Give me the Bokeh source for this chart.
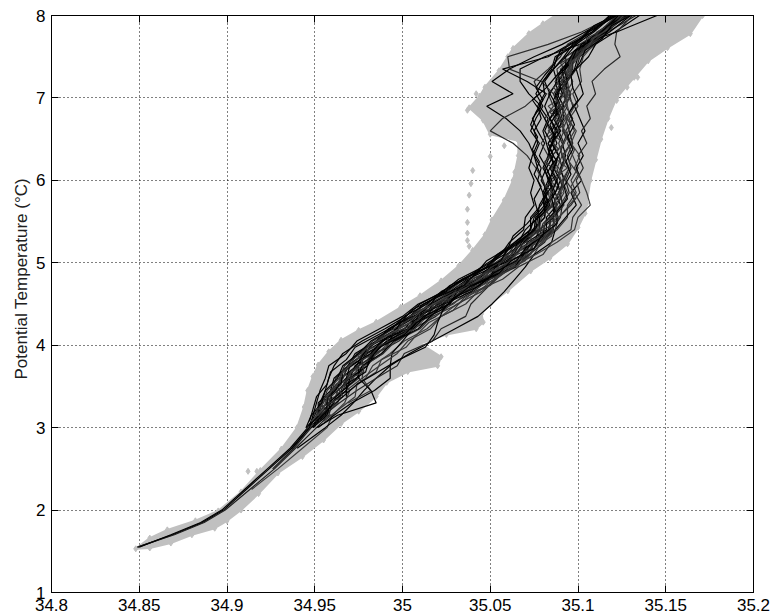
from bokeh.plotting import figure
from bokeh.models import Range1d, FixedTicker, LinearAxis, Title, CustomLabelingPolicy
from bokeh.embed import file_html
from bokeh.resources import INLINE

# ---------------- data ----------------
x_ticks = [34.8, 34.85, 34.9, 34.95, 35.0, 35.05, 35.1, 35.15, 35.2]
x_tick_labels = ["34.8", "34.85", "34.9", "34.95", "35", "35.05", "35.1", "35.15", "35.2"]
y_ticks = [1, 2, 3, 4, 5, 6, 7, 8]
y_tick_labels = ["1", "2", "3", "4", "5", "6", "7", "8"]

# envelope of the grey point cloud (all CTD data)
cloud_left_s = [34.848, 34.856, 34.866, 34.882, 34.895, 34.908, 34.919, 34.931, 34.940, 34.944,
                34.946, 34.949, 34.952, 34.958, 34.965, 34.975, 34.985, 34.999, 35.010, 35.022,
                35.032, 35.040, 35.047, 35.051, 35.058, 35.063, 35.064, 35.066, 35.066, 35.050,
                35.046, 35.038, 35.044, 35.047, 35.055, 35.060, 35.063, 35.072, 35.080, 35.087]
cloud_left_t = [1.53, 1.66, 1.76, 1.87, 1.99, 2.22, 2.48, 2.74, 3.00, 3.25,
                3.45, 3.62, 3.76, 3.92, 4.06, 4.18, 4.28, 4.46, 4.60, 4.78,
                4.96, 5.15, 5.34, 5.52, 5.76, 6.00, 6.10, 6.30, 6.48, 6.56,
                6.73, 6.88, 7.02, 7.13, 7.33, 7.50, 7.60, 7.78, 7.90, 8.00]
cloud_right_s = [35.171, 35.164, 35.151, 35.140, 35.132, 35.122, 35.117, 35.113, 35.110, 35.107,
                 35.105, 35.104, 35.100, 35.094, 35.084, 35.073, 35.060, 35.050, 35.045, 35.046,
                 35.042, 35.025, 35.010, 35.022, 35.020, 35.003, 34.991, 34.985, 34.975, 34.965,
                 34.955, 34.943, 34.929, 34.918, 34.908, 34.900, 34.893, 34.880, 34.868, 34.856]
cloud_right_t = [8.00, 7.78, 7.61, 7.45, 7.25, 7.00, 6.75, 6.50, 6.25, 6.00,
                 5.72, 5.60, 5.43, 5.23, 5.06, 4.90, 4.66, 4.50, 4.38, 4.28,
                 4.20, 4.13, 4.02, 3.86, 3.75, 3.68, 3.55, 3.38, 3.20, 3.05,
                 2.85, 2.65, 2.45, 2.20, 2.00, 1.87, 1.78, 1.70, 1.60, 1.54]

# isolated grey points
stray_s = [35.040, 35.039, 35.038, 35.037, 35.037, 35.037, 35.037, 35.038, 35.050, 35.058,
           34.912, 34.917, 34.921, 35.134, 35.119, 35.122, 35.137, 35.128, 35.113, 35.037, 35.042]
stray_t = [6.12, 5.96, 5.82, 5.65, 5.49, 5.36, 5.27, 5.20, 6.29, 6.42,
           2.47, 2.47, 2.47, 7.25, 6.64, 6.97, 7.42, 7.13, 6.73, 6.85, 7.05]

# potential temperature levels of the first set of profiles (every profile ends at 8 C)
temp_grid = [1.55, 1.70, 1.85, 2.00, 2.25, 2.50, 2.75, 3.00, 3.15, 3.30, 3.45, 3.60, 3.75, 3.90,
             4.05, 4.20, 4.35, 4.50, 4.65, 4.80, 4.95, 5.10, 5.25, 5.40, 5.55, 5.70, 5.85, 6.00,
             6.15, 6.30, 6.45, 6.60, 6.75, 6.90, 7.05, 7.20, 7.35, 7.50, 7.65, 7.80, 8.00]
# potential temperature levels of the second set of profiles
temp_grid_b = [3.075, 3.225, 3.375, 3.525, 3.675, 3.825, 3.975, 4.125, 4.275, 4.425, 4.575,
               4.725, 4.875, 5.025, 5.175, 5.325, 5.475, 5.625, 5.775, 5.925, 6.075, 6.225,
               6.375, 6.525, 6.675, 6.825, 6.975, 7.125, 7.275, 7.425, 7.575, 7.725, 7.875, 8.00]

# salinity of each profile at the upper part of its temperature grid
prof_a = [34.849, 34.869, 34.886, 34.898, 34.911, 34.924, 34.937, 34.947, 34.951, 34.957, 34.959,
          34.966, 34.969, 34.978, 34.985, 34.997, 35.004, 35.017, 35.027, 35.037, 35.052, 35.059,
          35.070, 35.074, 35.081, 35.082, 35.087, 35.084, 35.086, 35.089, 35.085, 35.087, 35.090,
          35.087, 35.089, 35.087, 35.091, 35.097, 35.102, 35.113, 35.123]
prof_b = [34.849, 34.870, 34.887, 34.899, 34.913, 34.927, 34.939, 34.951, 34.958, 34.960, 34.968,
          34.971, 34.980, 34.985, 34.998, 35.006, 35.019, 35.028, 35.040, 35.050, 35.065, 35.072,
          35.081, 35.085, 35.090, 35.091, 35.095, 35.093, 35.096, 35.094, 35.097, 35.095, 35.093,
          35.097, 35.095, 35.094, 35.099, 35.101, 35.110, 35.117, 35.133]
prof_c = [34.850, 34.868, 34.885, 34.897, 34.910, 34.923, 34.936, 34.946, 34.952, 34.954, 34.962,
          34.965, 34.974, 34.977, 34.989, 34.996, 35.008, 35.016, 35.029, 35.038, 35.048, 35.055,
          35.066, 35.070, 35.077, 35.078, 35.082, 35.080, 35.077, 35.075, 35.078, 35.073, 35.076,
          35.080, 35.076, 35.080, 35.085, 35.087, 35.098, 35.105, 35.121]
prof_d = [34.914, 34.929, 34.943, 34.957, 34.960, 34.967, 34.970, 34.979, 34.983, 34.993, 35.001,
          35.014, 35.022, 35.031, 35.045, 35.053, 35.063, 35.075, 35.079, 35.088, 35.094, 35.094,
          35.099, 35.096, 35.100, 35.097, 35.094, 35.098, 35.095, 35.100, 35.097, 35.102, 35.101,
          35.103, 35.109, 35.116, 35.128]
prof_e = [34.940, 34.956, 34.965, 34.972, 34.978, 34.985, 34.993, 35.004, 35.017, 35.030, 35.043,
          35.051, 35.058, 35.064, 35.070, 35.075, 35.085, 35.087, 35.093, 35.099, 35.096, 35.102,
          35.099, 35.103, 35.100, 35.104, 35.101, 35.098, 35.103, 35.101, 35.099, 35.106, 35.110,
          35.121, 35.135]
prof_f = [34.950, 34.951, 34.953, 34.960, 34.962, 34.970, 34.974, 34.986, 34.993, 35.005, 35.013,
          35.026, 35.035, 35.049, 35.060, 35.065, 35.075, 35.076, 35.083, 35.081, 35.085, 35.082,
          35.086, 35.083, 35.087, 35.084, 35.089, 35.086, 35.091, 35.090, 35.098, 35.103, 35.114,
          35.124]
prof_g = [34.947, 34.954, 34.961, 34.963, 34.970, 34.973, 34.982, 34.989, 35.001, 35.008, 35.021,
          35.029, 35.043, 35.052, 35.063, 35.068, 35.076, 35.077, 35.082, 35.080, 35.077, 35.079,
          35.075, 35.072, 35.067, 35.059, 35.048, 35.063, 35.051, 35.061, 35.075, 35.091, 35.104,
          35.120]
prof_h = [34.956, 34.963, 34.966, 34.969, 34.978, 34.983, 34.991, 35.004, 35.012, 35.026, 35.035,
          35.050, 35.060, 35.072, 35.078, 35.087, 35.089, 35.096, 35.101, 35.099, 35.103, 35.100,
          35.105, 35.102, 35.107, 35.105, 35.110, 35.108, 35.115, 35.124, 35.121, 35.122, 35.131]
prof_i = [34.945, 34.952, 34.952, 34.959, 34.961, 34.969, 34.973, 34.985, 34.992, 35.004, 35.012,
          35.025, 35.034, 35.048, 35.054, 35.064, 35.073, 35.073, 35.079, 35.083, 35.079, 35.082,
          35.078, 35.081, 35.077, 35.074, 35.079, 35.072, 35.067, 35.067, 35.081, 35.101, 35.122,
          35.145]
prof_j = [34.969, 34.982, 34.977, 34.978, 34.989, 34.993, 35.007, 35.012, 35.027, 35.033, 35.048,
          35.058, 35.070, 35.076, 35.085, 35.087, 35.088, 35.092, 35.090, 35.088, 35.091, 35.089,
          35.092, 35.090, 35.094, 35.092, 35.091, 35.095, 35.096, 35.106, 35.112, 35.127]
prof_k = [34.946, 34.950, 34.953, 34.956, 34.958, 34.961, 34.966, 34.977, 34.990, 35.002, 35.010,
          35.023, 35.032, 35.046, 35.058, 35.064, 35.073, 35.075, 35.081, 35.080, 35.083, 35.081,
          35.084, 35.082, 35.080, 35.083, 35.078, 35.082, 35.071, 35.057, 35.083, 35.095, 35.108,
          35.119]
prof_l = [34.926, 34.938, 34.948, 34.955, 34.958, 34.965, 34.968, 34.975, 34.980, 34.993, 35.001,
          35.014, 35.023, 35.036, 35.046, 35.056, 35.068, 35.074, 35.083, 35.085, 35.091, 35.090,
          35.088, 35.091, 35.089, 35.092, 35.089, 35.091, 35.089, 35.091, 35.094, 35.093, 35.099,
          35.105, 35.115, 35.125]
prof_m = [34.966, 34.975, 34.978, 34.989, 34.996, 35.010, 35.017, 35.032, 35.041, 35.057, 35.066,
          35.080, 35.085, 35.096, 35.097, 35.102, 35.098, 35.093, 35.089, 35.083, 35.079, 35.084,
          35.081, 35.086, 35.083, 35.089, 35.088, 35.096, 35.101, 35.112, 35.122]
prof_n = [34.952, 34.961, 34.971, 34.984, 34.993, 34.993, 34.994, 35.000, 35.006, 35.013, 35.020,
          35.028, 35.042, 35.050, 35.062, 35.066, 35.075, 35.081, 35.081, 35.086, 35.083, 35.087,
          35.084, 35.088, 35.085, 35.089, 35.087, 35.091, 35.089, 35.093, 35.093, 35.104, 35.111,
          35.126]
prof_o = [34.949, 34.955, 34.957, 34.964, 34.967, 34.976, 34.983, 34.995, 35.007, 35.015, 35.028,
          35.042, 35.051, 35.062, 35.067, 35.077, 35.078, 35.085, 35.083, 35.080, 35.076, 35.071,
          35.063, 35.050, 35.057, 35.070, 35.078, 35.075, 35.083, 35.090, 35.094, 35.106, 35.122]
prof_p = [34.951, 34.963, 34.985, 34.982, 34.975, 34.975, 34.979, 34.992, 34.998, 35.011, 35.018,
          35.032, 35.047, 35.057, 35.063, 35.075, 35.078, 35.086, 35.086, 35.089, 35.092, 35.090,
          35.093, 35.091, 35.088, 35.092, 35.091, 35.094, 35.093, 35.098, 35.100, 35.107, 35.118,
          35.130]
prof_q = [34.946, 34.959, 34.953, 34.970, 34.964, 34.978, 34.974, 34.994, 34.995, 35.017, 35.017,
          35.035, 35.038, 35.058, 35.062, 35.078, 35.077, 35.089, 35.085, 35.091, 35.084, 35.094,
          35.085, 35.092, 35.083, 35.090, 35.083, 35.094, 35.087, 35.095, 35.092, 35.108, 35.111,
          35.127]
prof_r = [34.937, 34.947, 34.949, 34.951, 34.953, 34.956, 34.958, 34.968, 34.974, 34.987, 35.000,
          35.009, 35.024, 35.034, 35.049, 35.056, 35.067, 35.075, 35.076, 35.083, 35.081, 35.085,
          35.082, 35.086, 35.083, 35.088, 35.084, 35.088, 35.084, 35.088, 35.086, 35.093, 35.099,
          35.109, 35.120]
prof_s = [34.955, 34.964, 34.974, 34.985, 34.997, 35.001, 35.017, 35.022, 35.036, 35.039, 35.046,
          35.053, 35.061, 35.073, 35.077, 35.086, 35.086, 35.092, 35.089, 35.092, 35.095, 35.091,
          35.096, 35.093, 35.097, 35.093, 35.096, 35.092, 35.097, 35.097, 35.108, 35.115, 35.129]
prof_t = [34.949, 34.952, 34.959, 34.960, 34.968, 34.970, 34.982, 34.988, 35.003, 35.009, 35.023,
          35.030, 35.045, 35.053, 35.065, 35.069, 35.078, 35.078, 35.084, 35.081, 35.084, 35.080,
          35.083, 35.085, 35.081, 35.084, 35.081, 35.084, 35.081, 35.086, 35.092, 35.097, 35.108,
          35.118]
prof_u = [34.961, 34.963, 34.972, 34.975, 34.986, 34.993, 35.007, 35.014, 35.029, 35.037, 35.053,
          35.062, 35.076, 35.088, 35.098, 35.100, 35.107, 35.105, 35.102, 35.098, 35.101, 35.096,
          35.099, 35.094, 35.098, 35.093, 35.097, 35.094, 35.101, 35.105, 35.117, 35.126]
prof_v = [34.948, 34.956, 34.958, 34.966, 34.974, 34.977, 34.988, 34.995, 35.009, 35.016, 35.024,
          35.039, 35.048, 35.064, 35.069, 35.074, 35.084, 35.084, 35.090, 35.087, 35.090, 35.086,
          35.089, 35.085, 35.088, 35.084, 35.090, 35.087, 35.092, 35.091, 35.099, 35.104, 35.116,
          35.127]
prof_w = [34.951, 34.957, 34.959, 34.966, 34.969, 34.979, 34.985, 34.998, 35.004, 35.018, 35.031,
          35.040, 35.054, 35.060, 35.070, 35.078, 35.079, 35.086, 35.084, 35.088, 35.085, 35.089,
          35.086, 35.090, 35.087, 35.090, 35.086, 35.079, 35.061, 35.060, 35.083, 35.102, 35.121]
prof_x = [34.949, 34.957, 34.959, 34.968, 34.970, 34.980, 34.984, 34.991, 35.005, 35.012, 35.027,
          35.031, 35.049, 35.053, 35.069, 35.071, 35.082, 35.082, 35.088, 35.085, 35.088, 35.084,
          35.089, 35.085, 35.090, 35.086, 35.092, 35.088, 35.094, 35.092, 35.099, 35.102, 35.114,
          35.123]
prof_y = [34.968, 34.977, 34.987, 34.997, 35.003, 35.016, 35.022, 35.036, 35.043, 35.052, 35.060,
          35.071, 35.075, 35.084, 35.084, 35.090, 35.094, 35.091, 35.095, 35.092, 35.096, 35.091,
          35.094, 35.091, 35.094, 35.091, 35.096, 35.096, 35.107, 35.113, 35.128]
prof_z = [34.945, 34.948, 34.954, 34.956, 34.963, 34.966, 34.975, 34.982, 34.994, 35.001, 35.014,
          35.022, 35.036, 35.045, 35.056, 35.061, 35.069, 35.070, 35.075, 35.073, 35.075, 35.072,
          35.074, 35.077, 35.075, 35.079, 35.077, 35.081, 35.080, 35.086, 35.088, 35.099, 35.106,
          35.122]

# second set, on temp_grid_b
prof_b1 = [34.953, 34.951, 34.966, 34.962, 34.978, 34.977, 34.991, 34.992, 35.009, 35.010, 35.028,
           35.032, 35.053, 35.056, 35.074, 35.073, 35.087, 35.082, 35.090, 35.082, 35.090, 35.081,
           35.089, 35.083, 35.092, 35.084, 35.094, 35.086, 35.094, 35.090, 35.104, 35.105, 35.119,
           35.124]
prof_b2 = [34.949, 34.957, 34.957, 34.965, 34.966, 34.976, 34.980, 34.994, 34.999, 35.013, 35.019,
           35.035, 35.042, 35.056, 35.060, 35.071, 35.074, 35.081, 35.080, 35.085, 35.082, 35.086,
           35.083, 35.087, 35.084, 35.088, 35.086, 35.090, 35.089, 35.096, 35.099, 35.109, 35.117,
           35.128]
prof_b3 = [34.955, 34.964, 34.973, 34.974, 34.985, 34.988, 35.002, 35.008, 35.015, 35.029, 35.035,
           35.050, 35.057, 35.070, 35.075, 35.085, 35.086, 35.092, 35.098, 35.096, 35.100, 35.095,
           35.098, 35.093, 35.096, 35.091, 35.094, 35.091, 35.096, 35.095, 35.104, 35.108, 35.120,
           35.127]
prof_b4 = [34.947, 34.949, 34.951, 34.957, 34.959, 34.968, 34.973, 34.986, 34.999, 35.005, 35.019,
           35.027, 35.042, 35.048, 35.060, 35.063, 35.071, 35.077, 35.075, 35.079, 35.075, 35.078,
           35.074, 35.077, 35.073, 35.076, 35.080, 35.076, 35.081, 35.087, 35.090, 35.102, 35.109,
           35.121]
prof_b5 = [34.950, 34.957, 34.959, 34.967, 34.970, 34.980, 34.986, 35.000, 35.007, 35.014, 35.029,
           35.038, 35.054, 35.061, 35.067, 35.078, 35.080, 35.087, 35.087, 35.091, 35.089, 35.092,
           35.090, 35.093, 35.091, 35.089, 35.093, 35.091, 35.096, 35.097, 35.101, 35.111, 35.117,
           35.127]
prof_b6 = [34.951, 34.958, 34.966, 34.974, 34.986, 34.998, 35.013, 35.018, 35.020, 35.023, 35.029,
           35.044, 35.052, 35.065, 35.070, 35.080, 35.081, 35.087, 35.085, 35.089, 35.085, 35.088,
           35.084, 35.087, 35.083, 35.079, 35.074, 35.082, 35.088, 35.094, 35.098, 35.110, 35.117,
           35.127]
prof_b7 = [34.948, 34.955, 34.957, 34.963, 34.966, 34.974, 34.980, 34.992, 35.004, 35.011, 35.024,
           35.039, 35.049, 35.062, 35.068, 35.079, 35.081, 35.088, 35.087, 35.092, 35.089, 35.093,
           35.090, 35.094, 35.091, 35.095, 35.093, 35.097, 35.096, 35.096, 35.104, 35.109, 35.120,
           35.126]
prof_b8 = [34.968, 34.968, 34.979, 34.981, 34.987, 35.001, 35.008, 35.022, 35.030, 35.039, 35.055,
           35.062, 35.075, 35.079, 35.088, 35.088, 35.094, 35.092, 35.096, 35.093, 35.097, 35.094,
           35.098, 35.095, 35.100, 35.097, 35.096, 35.101, 35.104, 35.114, 35.119, 35.130]

profiles = [prof_a, prof_b, prof_c, prof_d, prof_e, prof_f, prof_g, prof_h, prof_i,
            prof_j, prof_k, prof_l, prof_m, prof_n, prof_o, prof_p, prof_q, prof_r,
            prof_s, prof_t, prof_u, prof_v, prof_w, prof_x, prof_y, prof_z]
profiles_b = [prof_b1, prof_b2, prof_b3, prof_b4, prof_b5, prof_b6, prof_b7, prof_b8]
profile_colors = ["#000000", "#202020", "#000000", "#3a3a3a", "#000000", "#303030", "#000000",
                  "#2a2a2a", "#000000", "#383838", "#000000", "#1a1a1a", "#333333", "#000000",
                  "#2c2c2c", "#000000", "#404040", "#000000", "#262626", "#000000", "#3c3c3c",
                  "#000000", "#2e2e2e", "#000000", "#363636", "#000000"]
profile_colors_b = ["#303030", "#000000", "#3a3a3a", "#000000", "#262626", "#000000", "#404040",
                    "#000000"]

GREY = "#c0c0c0"
FONT = "Liberation Sans"

# ---------------- figure ----------------
p = figure(width=772, height=616, output_backend="svg", toolbar_location=None,
           x_range=Range1d(34.8, 35.2), y_range=Range1d(1, 8),
           min_border_left=51, min_border_right=19, min_border_top=15, min_border_bottom=24)
p.background_fill_color = "white"
p.border_fill_color = "white"
p.outline_line_color = "black"
p.outline_line_width = 1

# grey cloud
p.patch(cloud_left_s + cloud_right_s, cloud_left_t + cloud_right_t,
        fill_color=GREY, line_color=GREY, line_width=2)
p.scatter(cloud_left_s + cloud_right_s, cloud_left_t + cloud_right_t, marker="diamond",
          size=6, fill_color=GREY, line_color=GREY)
p.scatter(stray_s, stray_t, marker="diamond", size=6, fill_color=GREY, line_color=GREY)

# black profiles
for sal, col in zip(profiles, profile_colors):
    p.line(sal, temp_grid[len(temp_grid) - len(sal):], line_color=col, line_width=1.2)
for sal, col in zip(profiles_b, profile_colors_b):
    p.line(sal, temp_grid_b[len(temp_grid_b) - len(sal):], line_color=col, line_width=1.2)

# axes
xt = FixedTicker(ticks=x_ticks)
yt = FixedTicker(ticks=y_ticks)
for ax in p.xaxis:
    ax.ticker = xt
    ax.major_label_overrides = dict(zip(x_ticks, x_tick_labels))
for ax in p.yaxis:
    ax.ticker = yt
    ax.major_label_overrides = dict(zip([float(v) for v in y_ticks], y_tick_labels))

for ax in p.xaxis + p.yaxis:
    ax.major_tick_in = 7
    ax.major_tick_out = 0
    ax.minor_tick_in = 0
    ax.minor_tick_out = 0
    ax.major_label_standoff = 6
    ax.major_label_text_font = FONT
    ax.major_label_text_font_size = "17px"
    ax.major_label_text_color = "black"
    ax.axis_line_color = "black"
    ax.major_tick_line_color = "black"

hide_all = "for (const i of Array.from(indices)) { indices.unset(i) }\nreturn indices"
top_ax = LinearAxis(ticker=xt, major_tick_in=7, major_tick_out=0, minor_tick_in=0, minor_tick_out=0,
                    major_label_text_font_size="8px", major_label_standoff=0,
                    major_label_policy=CustomLabelingPolicy(code=hide_all))
right_ax = LinearAxis(ticker=yt, major_tick_in=7, major_tick_out=0, minor_tick_in=0, minor_tick_out=0,
                      major_label_text_font_size="8px", major_label_standoff=0,
                      major_label_policy=CustomLabelingPolicy(code=hide_all))
p.add_layout(top_ax, "above")
p.add_layout(right_ax, "right")

p.add_layout(Title(text="Potential Temperature (\u00b0C)", align="left", offset=213,
                   text_font=FONT, text_font_size="17px", text_font_style="normal",
                   text_color="#202020", standoff=6), "left")

# grid
p.xgrid.ticker = xt
p.ygrid.ticker = yt
for g in (p.xgrid, p.ygrid):
    g.grid_line_color = "black"
    g.grid_line_dash = "1 3"
    g.grid_line_width = 1

open("out.html", "w").write(file_html(p, INLINE))
